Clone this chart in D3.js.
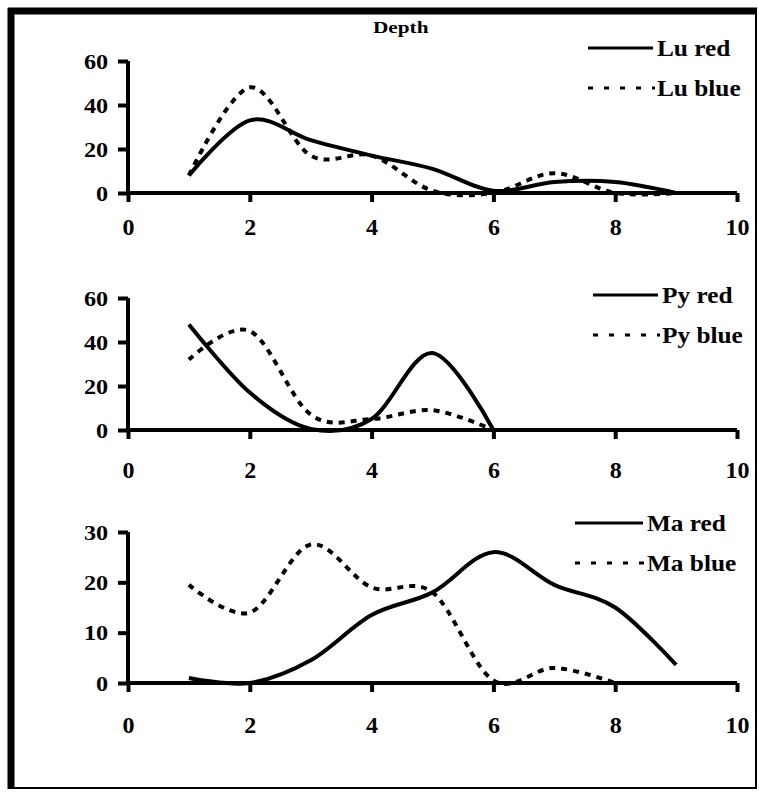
<!DOCTYPE html>
<html>
<head>
<meta charset="utf-8">
<script src="https://cdn.jsdelivr.net/npm/d3@7"></script>
<style>
  body { margin: 0; background: #fff; }
  svg text { font-family: "Liberation Serif", "Times New Roman", serif; font-weight: bold; fill: #000; }
</style>
</head>
<body>
<svg width="759" height="792"></svg>
<script>
// depth steps
var depth = [1, 2, 3, 4, 5, 6, 7, 8, 9];

var luRed  = [8, 33, 24, 17, 11, 1, 5, 5, 0];
var luBlue = [8, 48, 17, 17, 1, 0, 9, 0, 0];

var pyRed  = [48, 17, 0.5, 5, 35, 0];
var pyBlue = [32, 45, 7, 5, 9, 0];

var maRed  = [1, 0, 4.5, 13.5, 18, 26, 19.5, 15, 3.6];
var maBlue = [19.5, 14, 27.5, 19, 18, 0.5, 3, 0];

var xTicks = [0, 2, 4, 6, 8, 10];

var svg = d3.select('svg');

// outer frame
svg.append('rect')
  .attr('x', 11).attr('y', 11)
  .attr('width', 745).attr('height', 777)
  .attr('fill', 'none').attr('stroke', '#000').attr('stroke-width', 2);
svg.append('line').attr('x1', 11).attr('x2', 11).attr('y1', 8).attr('y2', 789)
  .attr('stroke', '#000').attr('stroke-width', 7);
svg.append('line').attr('x1', 8).attr('x2', 757).attr('y1', 11).attr('y2', 11)
  .attr('stroke', '#000').attr('stroke-width', 7);

svg.append('text')
  .attr('transform', 'translate(373,33) scale(1.25,1)')
  .style('font-size', '17px')
  .text('Depth');

var x = d3.scaleLinear().domain([0, 10]).range([128, 737]);

var panels = [
  {red: luRed, blue: luBlue, names: ['Lu red', 'Lu blue'], yMax: 60, yTicks: [0, 20, 40, 60],
   top: 61, bottom: 193, labelY: 42, legX: 588, legY: 48, legText: 657},
  {red: pyRed, blue: pyBlue, names: ['Py red', 'Py blue'], yMax: 60, yTicks: [0, 20, 40, 60],
   top: 298, bottom: 430, labelY: 48, legX: 593, legY: 295, legText: 662},
  {red: maRed, blue: maBlue, names: ['Ma red', 'Ma blue'], yMax: 30, yTicks: [0, 10, 20, 30],
   top: 532, bottom: 683, labelY: 50, legX: 575, legY: 523, legText: 647}
];

panels.forEach(function(p) {
  var y = d3.scaleLinear().domain([0, p.yMax]).range([p.bottom, p.top]);
  var g = svg.append('g');

  var line = d3.line()
    .x(function(d, i) { return x(depth[i]); })
    .y(function(d) { return y(d); })
    .curve(d3.curveCatmullRom.alpha(0));

  // y axis
  var ya = g.append('g')
    .attr('transform', 'translate(' + x(0) + ',0)')
    .call(d3.axisLeft(y).tickValues(p.yTicks).tickSize(10).tickPadding(8).tickFormat(d3.format('d')));
  // x axis
  var xa = g.append('g')
    .attr('transform', 'translate(0,' + y(0) + ')')
    .call(d3.axisBottom(x).tickValues(xTicks).tickSize(9));

  [ya, xa].forEach(function(a) {
    a.select('.domain').attr('stroke', '#000').attr('stroke-width', 4);
    a.selectAll('.tick line').attr('stroke', '#000').attr('stroke-width', 4);
    a.selectAll('.tick text').attr('fill', '#000');
  });
  ya.selectAll('.tick text').style('font-size', '22px').attr('transform', 'scale(1.1,1)');
  xa.selectAll('.tick text').style('font-size', '24px').attr('y', p.labelY).attr('dy', 0);
  ya.select('.domain').attr('d', 'M0,' + p.top + 'V' + (p.bottom + 2));
  xa.select('.domain').attr('d', 'M' + x(0) + ',0H' + x(10));

  g.append('path').datum(p.blue)
    .attr('d', line)
    .attr('fill', 'none').attr('stroke', '#000').attr('stroke-width', 4)
    .attr('stroke-dasharray', '6,6');
  g.append('path').datum(p.red)
    .attr('d', line)
    .attr('fill', 'none').attr('stroke', '#000').attr('stroke-width', 4);

  // legend
  var lg = g.append('g').attr('transform', 'translate(' + p.legX + ',' + p.legY + ')');
  lg.append('line').attr('x1', 0).attr('x2', p.legText - p.legX - 4).attr('y1', 0).attr('y2', 0)
    .attr('stroke', '#000').attr('stroke-width', 3);
  lg.append('line').attr('x1', 0).attr('x2', p.legText - p.legX - 2).attr('y1', 40).attr('y2', 40)
    .attr('stroke', '#000').attr('stroke-width', 3).attr('stroke-dasharray', '5,11');
  lg.append('text')
    .attr('transform', 'translate(' + (p.legText - p.legX) + ',8) scale(1.1,1)')
    .style('font-size', '23px').text(p.names[0]);
  lg.append('text')
    .attr('transform', 'translate(' + (p.legText - p.legX) + ',48) scale(1.1,1)')
    .style('font-size', '23px').text(p.names[1]);
});
</script>
</body>
</html>
